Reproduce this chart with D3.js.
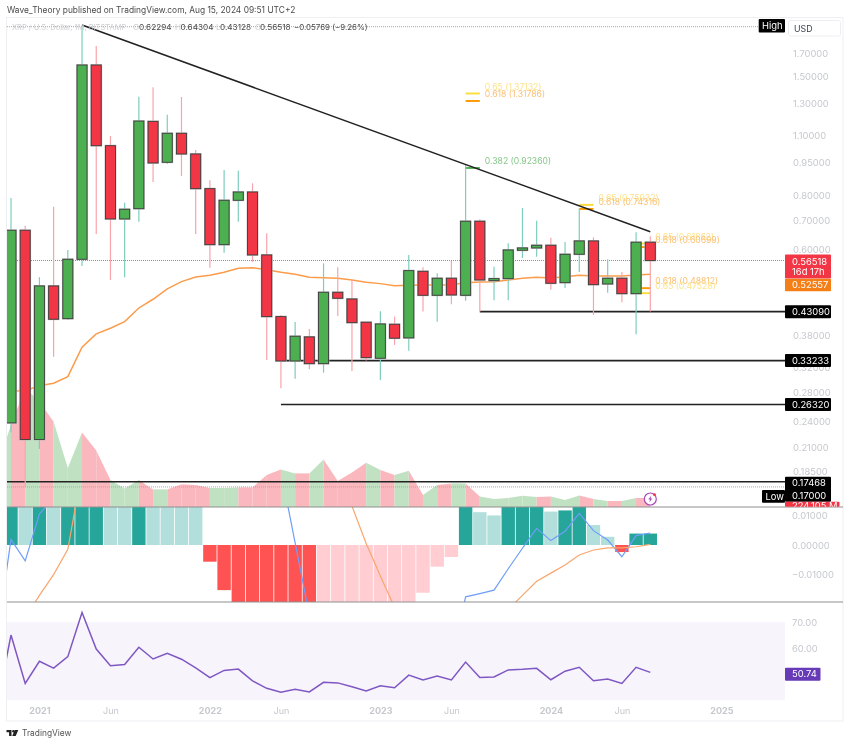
<!DOCTYPE html>
<html>
<head>
<meta charset="utf-8">
<title>XRP / U.S. Dollar</title>
<script src="https://cdnjs.cloudflare.com/ajax/libs/d3/7.8.5/d3.min.js"></script>
<style>
  html, body { margin: 0; padding: 0; background: #fff; }
  /* the reference is a slightly soft screenshot */
  svg { display: block; font-family: Inter, "Noto Sans", sans-serif; filter: blur(0.3px); }
</style>
</head>
<body>
<svg id="chart" width="850" height="744"></svg>
<script>
// monthly bars, Oct 2020 sits just left of the visible window
var months = d3.utcMonths(new Date(Date.UTC(2020, 9, 1)), new Date(Date.UTC(2024, 8, 1)));

var open = [.2477,.2388,.6637,.2186,.4939,.4152,.5690,1.595,1.0396,.7047,.7442,1.1828,.9520,1.1103,.9948,.8276,.6149,.7781,.8131,.5822,.4197,.3317,.3769,.3270,.4776,.4609,.4074,.3365,.4030,.3749,.5338,.4700,.5145,.4700,.6962,.5080,.5134,.5968,.6042,.6129,.5026,.5843,.6271,.4991,.5145,.4741,.62294];
var high = [.2600,.7877,.6791,.5173,.7522,.5978,1.954,1.765,1.0944,.7683,1.3485,1.417,1.2249,1.3463,1.0161,.8653,.9139,.9105,.8516,.6532,.4235,.4080,.3932,.5570,.5453,.5099,.4080,.4319,.4197,.5822,.5453,.5284,.5639,.9420,.7036,.5471,.6194,.7470,.6984,.6381,.6237,.7458,.6394,.5690,.5319,.6567,.64304];
var low = [.2300,.2273,.1700,.2080,.3394,.4124,.5491,.6508,.5099,.5173,.6947,.8575,.9435,.8853,.6508,.5442,.5893,.6947,.5609,.3335,.2870,.3020,.3175,.3117,.4213,.3146,.3323,.2999,.3612,.3503,.4310,.4087,.4482,.4568,.4309,.4578,.4578,.5730,.5769,.4843,.4887,.5319,.4235,.4766,.4530,.3823,.43128];
var close = [.2400,.6637,.2186,.4939,.4139,.5690,1.595,1.0396,.7047,.7419,1.1847,.9485,1.1103,.9948,.8276,.6149,.7781,.8131,.5822,.4197,.3317,.3782,.3270,.4776,.4626,.4065,.3376,.4037,.3743,.5357,.4700,.5145,.4708,.6962,.5099,.5134,.5978,.6042,.6129,.5010,.5843,.6271,.4973,.5145,.4741,.6229,.56518];
var ema50 = [.2825,.2829,.2833,.2910,.2947,.3052,.3568,.3829,.3946,.4087,.4394,.4602,.4861,.5053,.5181,.5226,.5311,.5425,.5442,.5384,.5311,.5254,.5173,.5161,.5145,.5099,.5037,.5000,.4947,.4958,.4966,.4966,.4973,.5026,.5045,.5053,.5099,.5145,.5173,.5153,.5189,.5226,.5207,.5207,.5207,.5235,.52557];
var volume = [1000,2050,2975,2630,2130,975,1860,1410,675,465,675,440,440,570,550,475,475,490,490,800,940,840,840,1190,650,860,1105,925,800,905,300,550,590,590,260,200,225,280,250,260,175,290,200,150,150,225,224];

// MACD pane, values beyond the pane are rough, null where the line is out of sight
var macdHist = [.03,.03,.05,.04,.05,.04,.05,.06,.06,.04,.03,.04,.03,.025,.02,-.0057,-.0154,-.02,-.03,-.04,-.05,-.05,-.05,-.04,-.03,-.028,-.026,-.024,-.022,-.021,-.0163,-.0074,-.0041,.014,.0112,.0101,.014,.015,.016,.0114,.0118,.014,.0068,.0028,-.0024,.0039,.0039];
var histStrong = [1,1,0,1,0,1,1,1,0,0,1,0,0,0,0,1,1,1,1,1,1,1,1,0,0,0,0,0,0,0,0,0,0,1,0,0,1,1,1,0,1,1,0,0,1,1,1];
var macdLine = [-.032,.0019,-.0054,.0106,.016,null,null,null,null,null,null,null,null,null,null,null,null,null,null,null,.0253,.0007,-.0239,null,null,null,null,null,null,null,null,null,-.04,-.0177,-.0166,-.0154,-.0081,-.0011,.0057,.0015,.0047,.0108,.0049,.0017,-.004,.0032,.0041];
var signalLine = [-.04,-.0324,-.025,-.0172,-.0101,-.0015,.0257,null,null,null,null,null,null,null,null,null,null,null,null,null,null,null,null,null,null,.0133,.0005,-.0106,-.0213,null,null,null,null,null,null,null,-.022,-.0172,-.0124,-.0096,-.0068,-.0034,-.0017,-.001,-.001,-.0006,.0002];

var rsi = [37.3,65.1,46.5,55.0,52.4,56.8,73.8,59.7,53.3,53.8,60.4,55.9,58.1,55.8,52.5,48.7,51.5,52.0,47.5,44.6,43.1,44.2,43.2,46.9,46.7,45.2,43.6,45.6,44.8,49.7,47.8,49.3,47.8,54.7,48.8,49.0,51.7,51.9,52.3,47.9,51.2,52.7,47.5,48.2,46.5,52.7,50.74];
var rsiBand = [70, 40];

var priceTicks = [1.7,1.5,1.3,1.1,.95,.8,.7,.6,.38,.32,.28,.24,.21,.185];
var macdTicks = [.01,0,-.01];
var rsiTicks = [70,60];
var timeTickDates = ["2021-01","2021-06","2022-01","2022-06","2023-01","2023-06","2024-01","2024-06","2025-01"];
var timeTickLabels = ["2021","Jun","2022","Jun","2023","Jun","2024","Jun","2025"];

// fib levels, each line runs between two bars
var fibRatio = ["0.382","0.65","0.618","0.65","0.618","0.65","0.618","0.618","0.65"];
var fibPrice = [.9236,1.37132,1.31786,.75932,.74316,.61862,.60699,.48812,.47528];
var fibFrom = ["2023-07","2023-07","2023-07","2024-03","2024-03","2024-07","2024-07","2024-07","2024-07"];
var fibTo = ["2023-08","2023-08","2023-08","2024-04","2024-04","2024-08","2024-08","2024-08","2024-08"];

var hLevels = [.4309,.33233,.2632,.17468];
var hLevelFrom = ["2023-08","2022-06","2022-06","2020-10"];

var svg = d3.select("#chart");
var L = 7, R = 785, FRAME_R = 843, TOP = 18, MAIN_B = 507, MACD_B = 602, BOTTOM = 721;

var xIdx = d3.scaleLinear().domain([1, 46]).range([11, 650.3]);
function monthPos(s) {
  var p = s.split("-");
  return (+p[0] - 2020) * 12 + (+p[1] - 1) - 9;
}
var x = function(i) { return xIdx(i); };

var yPrice = d3.scaleLog().domain([1.7, .185]).range([53, 471]);
var yVol = d3.scaleLinear().domain([0, 2500]).range([MAIN_B, 407]);
var yMacd = d3.scaleLinear().domain([.01, -.01]).range([515.7, 574.3]);
var yRsi = d3.scaleLinear().domain([70, 60]).range([622.3, 648.3]);

var defs = svg.append("defs");
function addClip(id, y0, y1) {
  defs.append("clipPath").attr("id", id).append("rect")
    .attr("x", L).attr("y", y0).attr("width", R - L).attr("height", y1 - y0);
}
addClip("clipMain", TOP, MAIN_B);
addClip("clipMacd", MAIN_B, MACD_B);
addClip("clipRsi", MACD_B, BOTTOM);

// header
svg.append("text").attr("x", 7).attr("y", 13).attr("font-size", 8.4).attr("fill", "#4a4a4a")
  .text("Wave_Theory published on TradingView.com, Aug 15, 2024 09:51 UTC+2");

// frame
svg.append("rect").attr("x", 6.5).attr("y", 17.5).attr("width", FRAME_R - 6.5).attr("height", BOTTOM - 17.5)
  .attr("fill", "none").attr("stroke", "#eeeff2");

var main = svg.append("g").attr("clip-path", "url(#clipMain)");

// volume, each stretch takes the colour of the bar it ends on
var volArea = d3.area().x(function(d) { return x(d.i); }).y0(MAIN_B).y1(function(d) { return yVol(d.v); });
d3.range(1, volume.length).forEach(function(i) {
  var up = close[i] >= open[i];
  main.append("path")
    .datum([{ i: i - 1, v: volume[i - 1] }, { i: i, v: volume[i] }])
    .attr("d", volArea)
    .attr("fill", up ? "#c1e2c2" : "#fab7bd");
});

// dotted high / low / last price
[[yPrice(1.96) + 0.5, "#a8a8a8"], [yPrice(.17), "#a8a8a8"], [yPrice(.56518), "#f0616d"]].forEach(function(d) {
  main.append("line").attr("x1", L).attr("x2", R).attr("y1", d[0]).attr("y2", d[0])
    .attr("stroke", d[1]).attr("stroke-dasharray", "1 1");
});

// horizontal levels
hLevels.forEach(function(v, k) {
  main.append("line")
    .attr("x1", k == 3 ? L : x(monthPos(hLevelFrom[k]))).attr("x2", R)
    .attr("y1", yPrice(v)).attr("y2", yPrice(v))
    .attr("stroke", "#222").attr("stroke-width", 1.6);
});

// fib levels
fibPrice.forEach(function(v, k) {
  var col = fibRatio[k] == "0.382" ? "#4caf50" : fibRatio[k] == "0.65" ? "#fbdc3a" : "#ff9800";
  var txt = fibRatio[k] == "0.382" ? "#84c888" : fibRatio[k] == "0.65" ? "#fde38a" : "#fbbf72";
  var x2 = x(monthPos(fibTo[k]));
  main.append("line").attr("x1", x(monthPos(fibFrom[k]))).attr("x2", x2)
    .attr("y1", yPrice(v)).attr("y2", yPrice(v)).attr("stroke", col).attr("stroke-width", 1.9);
  main.append("text").attr("x", x2 + 5).attr("y", yPrice(v) - 7).attr("dy", "0.35em")
    .attr("font-size", 8.6).attr("fill", txt)
    .text(fibRatio[k] + " (" + v.toFixed(5) + ")");
});

// 50 EMA
var emaLine = d3.line().x(function(d, i) { return x(i); }).y(function(d) { return yPrice(d); });
main.append("path").datum(ema50).attr("d", emaLine).attr("fill", "none")
  .attr("stroke", "#fb9c4b").attr("stroke-width", 1.5);

// candles
var bars = main.selectAll("g.candle").data(months).enter().append("g").attr("class", "candle");
bars.append("line")
  .attr("x1", function(d, i) { return x(i); }).attr("x2", function(d, i) { return x(i); })
  .attr("y1", function(d, i) { return yPrice(high[i]); }).attr("y2", function(d, i) { return yPrice(low[i]); })
  .attr("stroke", function(d, i) { return close[i] >= open[i] ? "#7fcdbd" : "#f9a3aa"; })
  .attr("stroke-width", 1.2);
function bodyRect(sel) {
  return sel
    .attr("x", function(d, i) { return x(i) - 5; })
    .attr("width", 10)
    .attr("y", function(d, i) { return yPrice(Math.max(open[i], close[i])); })
    .attr("height", function(d, i) { return Math.max(1, Math.abs(yPrice(open[i]) - yPrice(close[i]))); })
    .attr("fill", function(d, i) { return close[i] >= open[i] ? "#4caf50" : "#f23645"; });
}
bars.append("rect").call(bodyRect).attr("stroke", "#b9b9b9").attr("stroke-width", 1.8);
bars.append("rect").call(bodyRect).attr("stroke", "#3c3c3c").attr("stroke-width", 0.9);

// trendline
var trendMonths = ["2021-04", "2024-08"];
var trendPrice = [1.972, .6587];
main.append("line")
  .attr("x1", x(monthPos(trendMonths[0]))).attr("y1", yPrice(trendPrice[0]))
  .attr("x2", x(monthPos(trendMonths[1]))).attr("y2", yPrice(trendPrice[1]))
  .attr("stroke", "#222").attr("stroke-width", 1.5);

// MACD pane
var macdG = svg.append("g").attr("clip-path", "url(#clipMacd)");
macdG.selectAll("rect").data(macdHist).enter().append("rect")
  .attr("x", function(d, i) { return x(i) - 6.7; })
  .attr("width", 13.4)
  .attr("y", function(d) { return d > 0 ? yMacd(d) : yMacd(0); })
  .attr("height", function(d) { return Math.abs(yMacd(d) - yMacd(0)); })
  .attr("fill", function(d, i) {
    if (d >= 0) return histStrong[i] ? "#26a69a" : "#b2dfdb";
    return histStrong[i] ? "#ff5252" : "#ffcdd2";
  });

var macdPath = d3.line()
  .defined(function(d) { return d !== null; })
  .x(function(d, i) { return x(i); })
  .y(function(d) { return yMacd(d); });
macdG.append("path").datum(macdLine).attr("d", macdPath).attr("fill", "none")
  .attr("stroke", "#6f9dfa").attr("stroke-width", 1.2);
macdG.append("path").datum(signalLine).attr("d", macdPath).attr("fill", "none")
  .attr("stroke", "#f9a66c").attr("stroke-width", 1.2);

// pane dividers
[MAIN_B, MACD_B].forEach(function(y) {
  svg.append("line").attr("x1", L).attr("x2", FRAME_R).attr("y1", y).attr("y2", y)
    .attr("stroke", "#8f8f8f").attr("stroke-width", 1.2);
});

// RSI pane
var rsiG = svg.append("g").attr("clip-path", "url(#clipRsi)");
rsiG.append("rect").attr("x", L).attr("width", R - L)
  .attr("y", yRsi(rsiBand[0])).attr("height", yRsi(rsiBand[1]) - yRsi(rsiBand[0]))
  .attr("fill", "#f7f4fc");
rsiG.append("path").datum(rsi)
  .attr("d", d3.line().x(function(d, i) { return x(i); }).y(function(d) { return yRsi(d); }))
  .attr("fill", "none").attr("stroke", "#7e57c2").attr("stroke-width", 1.5);

// right hand axes
var tickCol = "#c6c8ce";
function styleAxis(g) {
  g.select(".domain").remove();
  g.selectAll("line").remove();
  g.selectAll("text").attr("fill", tickCol).attr("font-size", 9.4).attr("font-family", "Inter, sans-serif");
}
svg.append("g").attr("transform", "translate(793,0)")
  .call(d3.axisRight(yPrice).tickValues(priceTicks).tickSize(0).tickPadding(0).tickFormat(d3.format(".5f")))
  .call(styleAxis);
svg.append("g").attr("transform", "translate(792,0)")
  .call(d3.axisRight(yMacd).tickValues(macdTicks).tickSize(0).tickPadding(0)
    .tickFormat(function(d) { return d3.format(".5f")(d).replace("-", "\u2212"); }))
  .call(styleAxis);
svg.append("g").attr("transform", "translate(792,0)")
  .call(d3.axisRight(yRsi).tickValues(rsiTicks).tickSize(0).tickPadding(0).tickFormat(d3.format(".2f")))
  .call(styleAxis);

// time axis
var timeG = svg.append("g").attr("transform", "translate(0,711)")
  .call(d3.axisBottom(xIdx)
    .tickValues(timeTickDates.map(monthPos))
    .tickSize(0).tickPadding(0)
    .tickFormat(function(d, i) { return timeTickLabels[i]; }));
timeG.select(".domain").remove();
timeG.selectAll("text")
  .attr("y", 0).attr("dy", "0.35em")
  .attr("fill", tickCol).attr("font-size", 9).attr("font-family", "Inter, sans-serif")
  .attr("font-weight", function(d, i) { return timeTickLabels[i] == "Jun" ? 400 : 700; });

// price tags
function tag(xa, ya, w, h, fill, label, opts) {
  opts = opts || {};
  svg.append("rect").attr("x", xa).attr("y", ya).attr("width", w).attr("height", h)
    .attr("rx", 1).attr("fill", fill);
  if (label) {
    svg.append("text").attr("x", opts.tx || xa + 7).attr("y", ya + h / 2).attr("dy", "0.35em")
      .attr("font-size", 9.4).attr("fill", "#fff").text(label);
  }
}
var TAG_W = 46;
function tagText(y, label) {
  return svg.append("text").attr("x", 792).attr("y", y).attr("dy", "0.35em").attr("font-size", 9.4).attr("fill", "#fff").text(label);
}
tag(R, yPrice(.56518) - 6, TAG_W, 24, "#f23645", null);
tagText(261.5, "0.56518");
tagText(271.5, "16d 17h");
tag(R, 278.7, TAG_W, 12.5, "#f57f17", "0.52557");
hLevels.slice(0, 3).forEach(function(v) {
  tag(R, yPrice(v) - 6.5, TAG_W, 13, "#000", d3.format(".5f")(v));
});
tag(R, 476.7, TAG_W, 25, "#000", null);
tagText(yPrice(.17468) + 0.5, "0.17468");
tagText(495.5, "0.17000");
tag(R, 501.7, 54.5, 5, "#f23645", null);
defs.append("clipPath").attr("id", "clipVolTag").append("rect").attr("x", R).attr("y", 501.7).attr("width", 55).attr("height", 5);
tagText(505.5, "224.105 M").attr("clip-path", "url(#clipVolTag)");
tag(762, 490, 23, 12.7, "#000", "Low", { tx: 765.5 });
tag(758.7, 19, 26.3, 13.5, "#000", "High", { tx: 762 });
tag(785, 667.7, 35.5, 13, "#673ab7", "50.74", { tx: 792 });

// USD box
svg.append("rect").attr("x", 788.5).attr("y", 20.5).attr("width", 52).attr("height", 15.5).attr("rx", 2)
  .attr("fill", "#fff").attr("stroke", "#eceef2");
svg.append("text").attr("x", 794).attr("y", 28.5).attr("dy", "0.35em").attr("font-size", 8.8).attr("fill", "#3f4450").text("USD");

// legend row
var legendCol = "#cfcfd2", legendVal = "#4a4a4a";
var legendText = [
  [12, "XRP / U.S. Dollar, 1M, BITSTAMP", legendCol, 7.5],
  [133, "O", legendCol, 8.2], [139, "0.62294", legendVal, 8.2],
  [175, "H", legendCol, 8.2], [180.5, "0.64304", legendVal, 8.2],
  [216, "L", legendCol, 8.2], [220, "0.43128", legendVal, 8.2],
  [255, "C", legendCol, 8.2], [260, "0.56518", legendVal, 8.2],
  [294, "\u22120.05769 (\u22129.26%)", legendVal, 7.9]
];
legendText.forEach(function(d) {
  svg.append("text").attr("x", d[0]).attr("y", 27.5).attr("dy", "0.35em")
    .attr("font-size", d[3]).attr("fill", d[2]).text(d[1]);
});

// flash icon
var flash = svg.append("g").attr("transform", "translate(650.3,499)");
flash.append("circle").attr("r", 6).attr("fill", "#fff").attr("stroke", "#ab47bc").attr("stroke-width", 1.2);
flash.append("path").attr("d", "M1,-3.5 L-2,0.6 L-0.2,0.6 L-1,3.5 L2,-0.6 L0.2,-0.6 Z").attr("fill", "#ab47bc");
flash.append("circle").attr("cx", 4.2).attr("cy", -4.3).attr("r", 1.4).attr("fill", "#f23645");

// footer
svg.append("path").attr("d", "M6.5,730 h5 v6 h-2.4 v-3.7 h-2.6 Z M12.2,736 l2.5,-6 h3.6 l-2.6,6 Z")
  .attr("fill", "#222");
svg.append("circle").attr("cx", 13.4).attr("cy", 731.2).attr("r", 1.2).attr("fill", "#222");
svg.append("text").attr("x", 22).attr("y", 733).attr("dy", "0.35em").attr("font-size", 8.4).attr("fill", "#555").text("TradingView");
</script>
</body>
</html>
